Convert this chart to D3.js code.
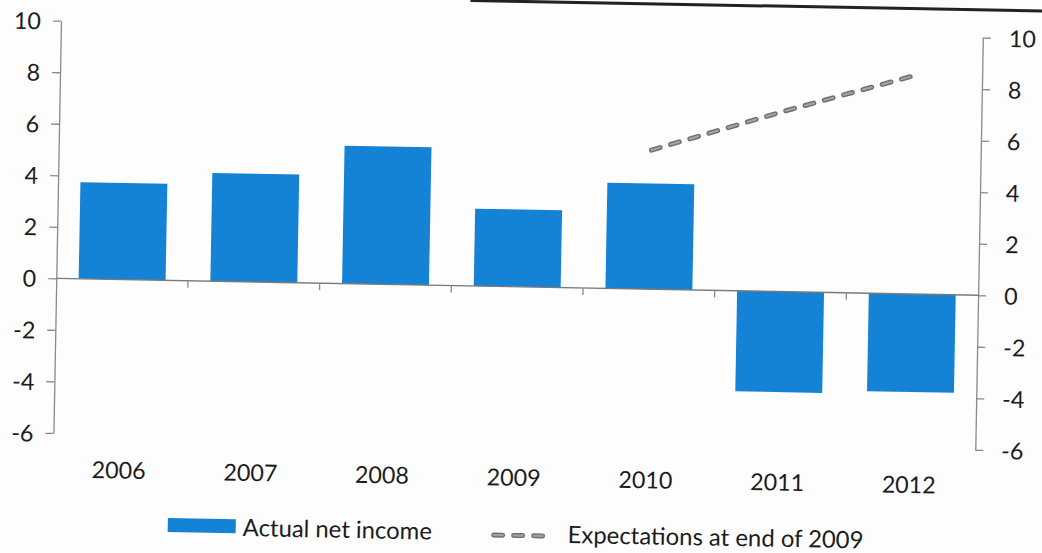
<!DOCTYPE html>
<html>
<head>
<meta charset="utf-8">
<script src="https://cdn.jsdelivr.net/npm/d3@7"></script>
<style>
  html, body { margin: 0; padding: 0; background: #fdfdfd; }
  svg { display: block; }
  text { font-family: Lato, "Liberation Sans", sans-serif; fill: #1c1c1c; }
</style>
</head>
<body>
<svg id="chart" width="1042" height="553"></svg>
<script>
// ---- data ----
const categories = ["2006", "2007", "2008", "2009", "2010", "2011", "2012"];
const actualNetIncome = [3.75, 4.2, 5.35, 3.0, 4.1, -3.9, -3.8];
const expectationYears = ["2010", "2011", "2012"];
const expectationValues = [5.4, 7.0, 8.5];
const yTickValues = [-6, -4, -2, 0, 2, 4, 6, 8, 10];
const legendLabels = ["Actual net income", "Expectations at end of 2009"];

(function () {
// ---- layout ----
const plotL = 61, plotR = 983, plotT = 20.7, plotB = 433;
const barColor = "#1482d5";
const axisColor = "#8a8a8a";
const lineOuter = "#6f6f6f";
const lineInner = "#a2a2a2";

const svg = d3.select("#chart");
// scanned page is slightly tilted
const g = svg.append("g").attr("transform", `rotate(1.05, ${plotL}, ${plotT})`);

// page edge line at the top
g.append("line").attr("x1", 470).attr("x2", 1120).attr("y1", -7).attr("y2", -7)
  .attr("stroke", "#222").attr("stroke-width", 3);

const x = d3.scaleBand().domain(categories).range([plotL, plotR])
  .paddingInner(0.34).paddingOuter(0.17);
const y = d3.scaleLinear().domain([-6, 10]).range([plotB, plotT]);

// font fitting helper
function fitSize(txt, target) {
  const t = svg.append("text").attr("font-size", 100).text(txt);
  const w = t.node().getComputedTextLength();
  t.remove();
  return 100 * target / w;
}
const tickFont = fitSize("2006", 54);
const legendFont = fitSize("Expectations at end of 2009", 296);
const fmt = d => String(d);

// bars
const barData = categories.map((c, i) => ({ cat: c, v: actualNetIncome[i] }));
g.selectAll("rect.bar").data(barData).enter().append("rect")
  .attr("class", "bar")
  .attr("x", d => x(d.cat))
  .attr("width", x.bandwidth())
  .attr("y", d => y(Math.max(0, d.v)))
  .attr("height", d => Math.abs(y(d.v) - y(0)))
  .attr("fill", barColor);

// left axis
const yl = g.append("g").attr("transform", `translate(${plotL},0)`)
  .call(d3.axisLeft(y).tickValues(yTickValues).tickFormat(fmt).tickSize(8).tickPadding(12).tickSizeOuter(0));
// right axis
const yr = g.append("g").attr("transform", `translate(${plotR},0)`)
  .call(d3.axisRight(y).tickValues(yTickValues).tickFormat(fmt).tickSize(8).tickPadding(18).tickSizeOuter(0));
[yl, yr].forEach(ax => {
  ax.selectAll("path.domain").attr("stroke", axisColor).attr("stroke-width", 1.3);
  ax.selectAll(".tick line").attr("stroke", axisColor).attr("stroke-width", 1.3);
  ax.selectAll(".tick text").attr("font-size", tickFont)
    .attr("font-family", "Lato, sans-serif").attr("fill", "#1c1c1c").attr("dy", "0.36em");
});

// zero line with category boundary ticks
const bounds = d3.range(1, categories.length).map(i => plotL + i * x.step());
g.append("line").attr("x1", plotL).attr("x2", plotR)
  .attr("y1", y(0)).attr("y2", y(0))
  .attr("stroke", "#7a7a7a").attr("stroke-width", 1.4);
g.selectAll("line.xtick").data(bounds).enter().append("line")
  .attr("class", "xtick")
  .attr("x1", d => d).attr("x2", d => d)
  .attr("y1", y(0)).attr("y2", y(0) + 7)
  .attr("stroke", axisColor).attr("stroke-width", 1.3);

// category labels
g.selectAll("text.xlab").data(categories).enter().append("text")
  .attr("class", "xlab")
  .attr("x", d => x(d) + x.bandwidth() / 2)
  .attr("y", 469)
  .attr("dy", "0.36em")
  .attr("text-anchor", "middle")
  .attr("font-size", tickFont)
  .text(d => d);

// expectations line (dark outline, lighter core)
const lineData = expectationYears.map((c, i) => ({ cat: c, v: expectationValues[i] }));
const line = d3.line().x(d => x(d.cat) + x.bandwidth() / 2).y(d => y(d.v));
[[lineOuter, 5], [lineInner, 2.2]].forEach(([col, w]) => {
  g.append("path").datum(lineData)
    .attr("d", line)
    .attr("fill", "none")
    .attr("stroke", col)
    .attr("stroke-width", w)
    .attr("stroke-linecap", "round")
    .attr("stroke-dasharray", "9,11");
});

// legend
g.append("rect").attr("x", 177).attr("y", 516).attr("width", 68).attr("height", 14)
  .attr("fill", barColor);
g.append("text").attr("x", 252).attr("y", 524).attr("dy", "0.36em")
  .attr("font-size", legendFont).text(legendLabels[0]);
[[lineOuter, 5], [lineInner, 2.2]].forEach(([col, w]) => {
  g.append("line").attr("x1", 503).attr("x2", 562).attr("y1", 527).attr("y2", 527)
    .attr("stroke", col).attr("stroke-width", w)
    .attr("stroke-linecap", "round").attr("stroke-dasharray", "9,11");
});
g.append("text").attr("x", 577).attr("y", 525).attr("dy", "0.36em")
  .attr("font-size", legendFont).text(legendLabels[1]);
})();
</script>
</body>
</html>
